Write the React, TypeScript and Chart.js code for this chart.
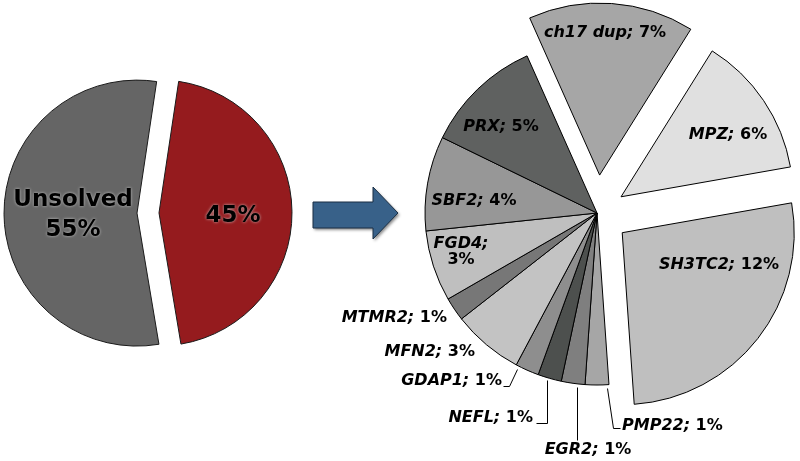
import React, { useEffect, useRef } from "react";
import { Chart, registerables } from "chart.js";

Chart.register(...registerables);

// ---------- Data: overview pie ----------
const overviewLabels = ["Solved", "Unsolved"];
const overviewValues = [45, 55];
const overviewColors = ["#951B1E", "#656565"];
const overviewExplode = [11, 11];
const overviewText = ["45%", "Unsolved\n55%"];

// ---------- Data: gene breakdown pie ----------
const geneLabels = ["ch17 dup", "MPZ", "SH3TC2", "PMP22", "EGR2", "NEFL", "GDAP1", "MFN2", "MTMR2", "FGD4", "SBF2", "PRX"];
const geneValues = [7, 6, 12, 1, 1, 1, 1, 3, 1, 3, 4, 5];
const geneColors = ["#A6A6A6", "#E0E0E0", "#BFBFBF", "#A6A6A6", "#7F7F7F", "#4D504E", "#8E8E8E", "#C3C3C3", "#777777", "#BFBFBF", "#979797", "#5F6160"];
const geneExplode = [38, 29, 32, 0, 0, 0, 0, 0, 0, 0, 0, 0];

// ---------- Label layout (relative to pie centre) ----------
type LabelSpec = { dx: number; dy: number; align: "left" | "center" | "right"; split?: boolean; leader?: number[][] };
const geneLabelLayout: LabelSpec[] = [
  { dx: 8, dy: -180, align: "center" },
  { dx: 131, dy: -78, align: "center" },
  { dx: 122, dy: 52, align: "center" },
  { dx: 25, dy: 213, align: "left", leader: [[23, 215], [16, 215], [10, 175]] },
  { dx: -9, dy: 237, align: "center", leader: [[-20, 227], [-20, 174]] },
  { dx: -64, dy: 205, align: "right", leader: [[-61, 210], [-50, 210], [-50, 167]] },
  { dx: -95, dy: 168, align: "right", leader: [[-94, 173], [-88, 173], [-80, 156]] },
  { dx: -122, dy: 139, align: "right" },
  { dx: -150, dy: 105, align: "right" },
  { dx: -136, dy: 31, align: "center", split: true },
  { dx: -123, dy: -12, align: "center" },
  { dx: -96, dy: -86, align: "center" },
];
const overviewLabelLayout = [
  { dx: 85, dy: 3.5 },
  { dx: -75, dy: -12.5 },
];

const FONT = "'DejaVu Sans', Verdana, sans-serif";

function makeExplodePlugin(id: string, distances: number[]) {
  return {
    id,
    afterDatasetUpdate(chart: any, args: any) {
      const meta = chart.getDatasetMeta(args.index);
      meta.data.forEach((arc: any, i: number) => {
        const d = distances[i] || 0;
        if (!d) return;
        const mid = (arc.startAngle + arc.endAngle) / 2;
        arc.x += Math.cos(mid) * d;
        arc.y += Math.sin(mid) * d;
      });
    },
  };
}

const overviewLabelPlugin = {
  id: "overviewLabels",
  afterDatasetsDraw(chart: any) {
    const { ctx, chartArea } = chart;
    const cx = (chartArea.left + chartArea.right) / 2;
    const cy = (chartArea.top + chartArea.bottom) / 2;
    ctx.save();
    ctx.font = `bold 23px ${FONT}`;
    ctx.textAlign = "center";
    ctx.textBaseline = "middle";
    ctx.fillStyle = "#000";
    ctx.shadowColor = "rgba(210,210,210,0.9)";
    ctx.shadowBlur = 3;
    overviewText.forEach((t, i) => {
      const p = overviewLabelLayout[i];
      t.split("\n").forEach((line, j) => {
        ctx.fillText(line, cx + p.dx, cy + p.dy + j * 30);
      });
    });
    ctx.restore();
  },
  afterDraw(chart: any) {
    // block arrow pointing to the breakdown pie
    const ctx = chart.ctx;
    ctx.save();
    ctx.beginPath();
    ctx.moveTo(313, 202);
    ctx.lineTo(373, 202);
    ctx.lineTo(373, 187);
    ctx.lineTo(398, 213);
    ctx.lineTo(373, 239);
    ctx.lineTo(373, 228);
    ctx.lineTo(313, 228);
    ctx.closePath();
    ctx.shadowColor = "rgba(0,0,0,0.45)";
    ctx.shadowBlur = 3;
    ctx.shadowOffsetX = 1.5;
    ctx.shadowOffsetY = 2;
    ctx.fillStyle = "#386189";
    ctx.fill();
    ctx.shadowColor = "transparent";
    ctx.strokeStyle = "#1B2F44";
    ctx.lineWidth = 1;
    ctx.stroke();
    ctx.restore();
  },
};

const geneLabelPlugin = {
  id: "geneLabels",
  afterDatasetsDraw(chart: any) {
    const { ctx, chartArea } = chart;
    const cx = (chartArea.left + chartArea.right) / 2;
    const cy = (chartArea.top + chartArea.bottom) / 2;
    const italic = `italic bold 16px ${FONT}`;
    const upright = `bold 16px ${FONT}`;
    ctx.save();
    ctx.fillStyle = "#000";
    ctx.strokeStyle = "#000";
    ctx.lineWidth = 1;
    ctx.textBaseline = "middle";
    geneLabels.forEach((name, i) => {
      const spec = geneLabelLayout[i];
      const x = cx + spec.dx;
      const y = cy + spec.dy;
      const namePart = name + ";";
      const valuePart = `${geneValues[i]}%`;
      if (spec.split) {
        ctx.textAlign = "center";
        ctx.font = italic;
        ctx.fillText(namePart, x, y);
        ctx.font = upright;
        ctx.fillText(valuePart, x, y + 16);
      } else {
        ctx.textAlign = "left";
        ctx.font = italic;
        const wN = ctx.measureText(namePart).width;
        ctx.font = upright;
        const wV = ctx.measureText(" " + valuePart).width;
        const total = wN + wV;
        let sx = x;
        if (spec.align === "center") sx = x - total / 2;
        else if (spec.align === "right") sx = x - total;
        ctx.font = italic;
        ctx.fillText(namePart, sx, y);
        ctx.font = upright;
        ctx.fillText(" " + valuePart, sx + wN, y);
      }
      if (spec.leader) {
        ctx.beginPath();
        spec.leader.forEach((pt, k) => {
          const px = cx + pt[0] + 0.5;
          const py = cy + pt[1] + 0.5;
          if (k === 0) ctx.moveTo(px, py);
          else ctx.lineTo(px, py);
        });
        ctx.stroke();
      }
    });
    ctx.restore();
  },
};

export default function App() {
  const leftRef = useRef<HTMLCanvasElement>(null);
  const rightRef = useRef<HTMLCanvasElement>(null);

  useEffect(() => {
    const left = new Chart(leftRef.current as HTMLCanvasElement, {
      type: "pie",
      data: {
        labels: overviewLabels,
        datasets: [
          {
            data: overviewValues,
            backgroundColor: overviewColors,
            borderColor: "#1a1a1a",
            borderWidth: 1,
          },
        ],
      },
      options: {
        responsive: false,
        animation: false,
        events: [],
        radius: 133,
        rotation: 8.5,
        layout: { padding: { left: 0, right: 504, top: 0, bottom: 35 } },
        plugins: { legend: { display: false }, tooltip: { enabled: false } },
      } as any,
      plugins: [makeExplodePlugin("explodeLeft", overviewExplode), overviewLabelPlugin],
    });

    const right = new Chart(rightRef.current as HTMLCanvasElement, {
      type: "pie",
      data: {
        labels: geneLabels,
        datasets: [
          {
            data: geneValues,
            backgroundColor: geneColors,
            borderColor: "#000",
            borderWidth: 1,
          },
        ],
      },
      options: {
        responsive: false,
        animation: false,
        events: [],
        radius: 172,
        rotation: -24,
        layout: { padding: { left: 394, right: 0, top: 0, bottom: 35 } },
        plugins: { legend: { display: false }, tooltip: { enabled: false } },
      } as any,
      plugins: [makeExplodePlugin("explodeRight", geneExplode), geneLabelPlugin],
    });

    return () => {
      left.destroy();
      right.destroy();
    };
  }, []);

  return (
    <div style={{ position: "absolute", left: 0, top: 0, width: 800, height: 461, background: "#fff", overflow: "hidden" }}>
      <canvas ref={leftRef} width={800} height={461} style={{ position: "absolute", left: 0, top: 0 }} />
      <canvas ref={rightRef} width={800} height={461} style={{ position: "absolute", left: 0, top: 0 }} />
    </div>
  );
}
